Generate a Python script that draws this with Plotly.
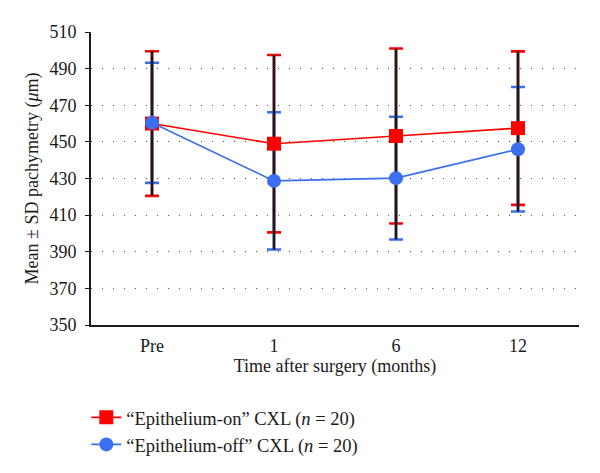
import numpy as np
import plotly.graph_objects as go

categories = ["Pre", "1", "6", "12"]
on_mean = [460.0, 449.0, 453.2, 457.5]
on_sd = [39.5, 48.4, 47.8, 41.9]
off_mean = [460.4, 428.7, 430.2, 446.0]
off_sd = [32.8, 37.5, 33.5, 34.0]
y_ticks = [350, 370, 390, 410, 430, 450, 470, 490, 510]

RED = "#ff0000"
BLUE = "#3a6ff0"
FONT = "Liberation Serif"

on_mean_a = np.array(on_mean)
off_mean_a = np.array(off_mean)
top = np.maximum(on_mean_a + np.array(on_sd), off_mean_a + np.array(off_sd))
bot = np.minimum(on_mean_a - np.array(on_sd), off_mean_a - np.array(off_sd))

fig = go.Figure()

# coloured SD caps
for mean, sd, col in [(on_mean, on_sd, RED), (off_mean, off_sd, BLUE)]:
    fig.add_trace(go.Scatter(
        x=categories, y=mean, mode="markers",
        marker=dict(size=1, opacity=0),
        error_y=dict(type="data", array=sd, visible=True, color=col,
                     thickness=2.6, width=7),
        showlegend=False, hoverinfo="skip"))

# black vertical bar spanning both SD ranges
fig.add_trace(go.Scatter(
    x=categories, y=on_mean, mode="markers",
    marker=dict(size=1, opacity=0),
    error_y=dict(type="data", symmetric=False,
                 array=list(top - on_mean_a), arrayminus=list(on_mean_a - bot),
                 visible=True, color="#1a1a1a", thickness=2.6, width=0),
    showlegend=False, hoverinfo="skip"))

fig.add_trace(go.Scatter(
    x=categories, y=on_mean, mode="lines+markers",
    name="\u201cEpithelium-on\u201d CXL (<i>n</i> = 20)",
    line=dict(color=RED, width=1.6),
    marker=dict(symbol="square", size=14, color=RED)))
fig.add_trace(go.Scatter(
    x=categories, y=off_mean, mode="lines+markers",
    name="\u201cEpithelium-off\u201d CXL (<i>n</i> = 20)",
    line=dict(color=BLUE, width=1.6),
    marker=dict(symbol="circle", size=14, color=BLUE)))

fig.update_layout(
    width=600, height=473,
    margin=dict(l=91, r=21, t=32, b=148, autoexpand=False),
    paper_bgcolor="white", plot_bgcolor="white",
    font=dict(family=FONT, size=18, color="#1a1a1a"),
    legend=dict(x=-0.0096, y=-0.252, xanchor="left", yanchor="top",
                font=dict(family=FONT, size=18.5), tracegroupgap=0,
                itemwidth=30, bgcolor="rgba(0,0,0,0)"),
    xaxis=dict(type="category", range=[-0.5, 3.5], showline=True,
               linecolor="#1a1a1a", linewidth=1.6, ticks="", showgrid=False,
               zeroline=False, tickfont=dict(family=FONT, size=18),
               ticklabelstandoff=4,
               title=dict(text="Time after surgery (months)", standoff=0,
                          font=dict(family=FONT, size=18))),
    yaxis=dict(range=[350, 510], tickvals=y_ticks, showline=True,
               linecolor="#1a1a1a", linewidth=1.6, ticks="outside", ticklen=4,
               tickwidth=1.4, tickcolor="#1a1a1a", showgrid=True,
               gridcolor="#555555", gridwidth=1.2, griddash="1.2px,9.8px",
               zeroline=False, tickfont=dict(family=FONT, size=18),
               ticklabelstandoff=5,
               title=dict(text="Mean \u00b1 SD pachymetry (<i>\u03bc</i>m)",
                          standoff=6, font=dict(family=FONT, size=18))),
)

fig.write_html("out.html", config={"displayModeBar": False},
               post_script="document.body.style.margin='0';")
